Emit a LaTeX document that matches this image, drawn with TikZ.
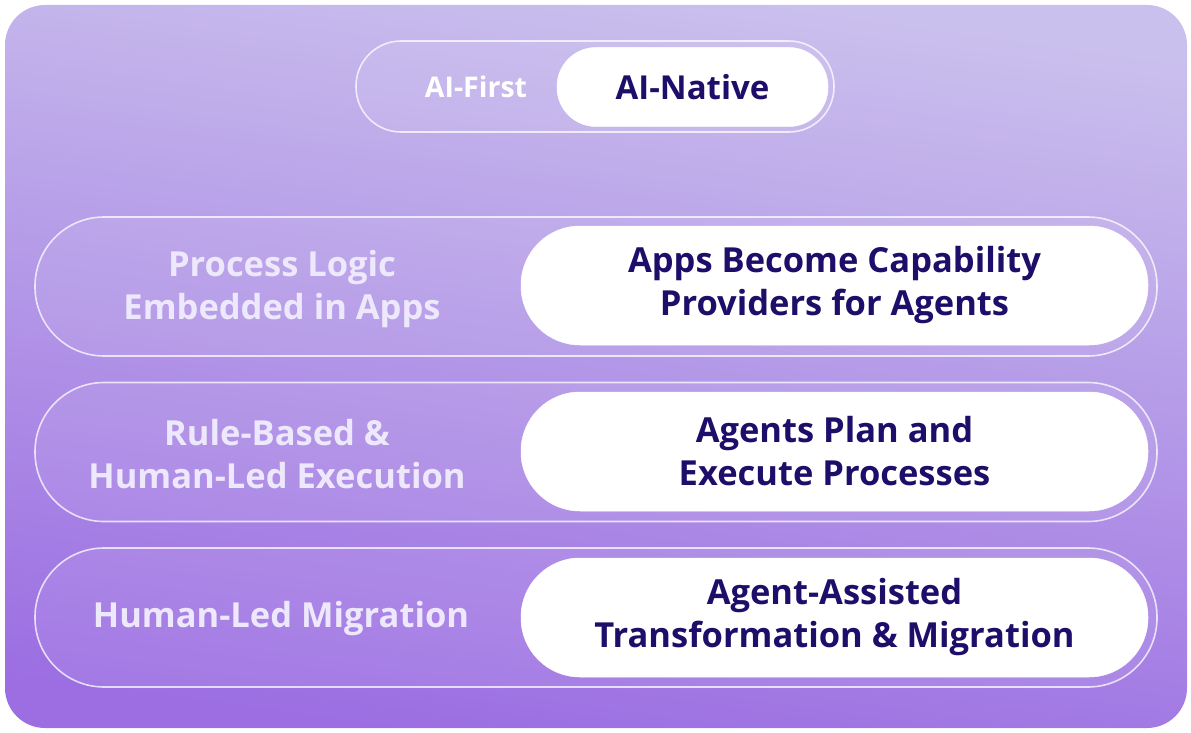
\documentclass[tikz,border=0pt]{standalone}
\usepackage{fontspec}
\setmainfont{Open Sans}
\usetikzlibrary{positioning}
\definecolor{navy}{RGB}{30,14,106}
\definecolor{paletop}{RGB}{202,192,237}
\definecolor{palemid}{RGB}{170,142,233}
\definecolor{palebot}{RGB}{156,110,226}
\definecolor{ghost}{RGB}{238,232,252}
\tikzset{
  track/.style={draw=white,draw opacity=0.75,line width=1.6pt,fill=white,fill opacity=0.08,text opacity=1},
  chip/.style={fill=white,draw=white,line width=0.5pt,text=navy,align=center,inner sep=0pt},
  faint/.style={text=ghost,align=center,inner sep=0pt},
  big/.style={font=\bfseries\fontsize{34.5}{43}\selectfont}
}
\begin{document}
\begin{tikzpicture}[x=1pt,y=-1pt,line join=round]
\useasboundingbox (0,0) rectangle (1191,733);
\shade[rounded corners=40pt,top color=paletop,middle color=palemid,bottom color=palebot,shading angle=-8] (5,5) rectangle (1187,728);
% toggle on top
\node[track,rounded corners=45pt,minimum width=478pt,minimum height=91pt] (switch) at (595,86.5) {};
\node[chip,rounded corners=39pt,minimum width=271pt,minimum height=79pt,font=\bfseries\fontsize{33}{36}\selectfont] (native) at (692.5,87) {AI-Native};
\node[faint,text=white,font=\bfseries\fontsize{28.5}{32}\selectfont] (first) at (476,87) {AI-First};
% rows
\node[track,rounded corners=69pt,minimum width=1122pt,minimum height=139pt] (row1) at (596,286.5) {};
\node[track,rounded corners=69pt,minimum width=1122pt,minimum height=139pt] (row2) at (596,452) {};
\node[track,rounded corners=69pt,minimum width=1122pt,minimum height=139pt] (row3) at (596,617.5) {};
\node[chip,big,rounded corners=59pt,minimum width=627pt,minimum height=119pt] (apps) at (834.5,285.5) {Apps Become Capability\\Providers for Agents};
\node[chip,big,rounded corners=59pt,minimum width=627pt,minimum height=119pt] (plan) at (834.5,451.5) {Agents Plan and\\Execute Processes};
\node[chip,big,rounded corners=59pt,minimum width=627pt,minimum height=119pt] (assist) at (834.5,617.5) {Agent-Assisted\\Transformation \& Migration};
\node[faint,big] (logic) at (282,289) {Process Logic\\Embedded in Apps};
\node[faint,big] (rules) at (277,454) {Rule-Based \&\\Human-Led Execution};
\node[faint,big] (human) at (281,619) {Human-Led Migration};
\end{tikzpicture}
\end{document}
